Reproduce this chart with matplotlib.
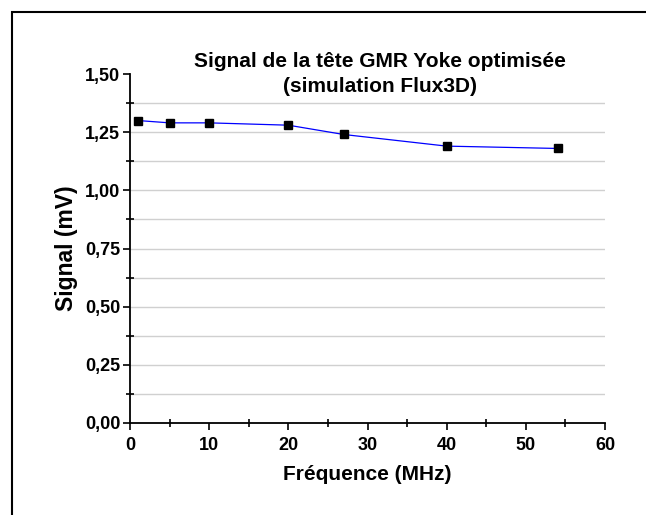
import numpy as np
import matplotlib
matplotlib.use('Agg')
import matplotlib.pyplot as plt
from matplotlib.ticker import MultipleLocator, FuncFormatter
from matplotlib.patches import Rectangle

# Data
freq_mhz = [1, 5, 10, 20, 27, 40, 54]
signal_mv = [1.30, 1.29, 1.29, 1.28, 1.24, 1.19, 1.18]

title = 'Signal de la tête GMR Yoke optimisée\n(simulation Flux3D)'
xlabel = 'Fréquence (MHz)'
ylabel = 'Signal (mV)'

plt.rcParams['font.family'] = ['Liberation Sans', 'DejaVu Sans']
plt.rcParams['font.weight'] = 'bold'

W, H = 646, 515
fig = plt.figure(figsize=(W / 100, H / 100), dpi=100)

# outer frame (left and top edges visible)
fig.patches.append(Rectangle((12 / W, -0.1), 1.2, 1 - 11.5 / H + 0.1,
                             transform=fig.transFigure, fill=False,
                             edgecolor='black', linewidth=1.5))

left, right, top, bottom = 130, 605, 74, 423
ax = fig.add_axes([left / W, 1 - bottom / H, (right - left) / W, (bottom - top) / H])

ax.plot(freq_mhz, signal_mv, color='#0000ff', linewidth=0.9,
        marker='s', markersize=6, markerfacecolor='black',
        markeredgecolor='black', zorder=3)

ax.set_xlim(0, 60)
ax.set_ylim(0, 1.5)
ax.xaxis.set_major_locator(MultipleLocator(10))
ax.xaxis.set_minor_locator(MultipleLocator(5))
ax.yaxis.set_major_locator(MultipleLocator(0.25))
ax.yaxis.set_minor_locator(MultipleLocator(0.125))
ax.yaxis.set_major_formatter(FuncFormatter(lambda v, p: f'{v:.2f}'.replace('.', ',')))

# horizontal grid at every minor step, except the top
for yv in np.arange(0.125, 1.5, 0.125):
    ax.axhline(yv, color='#d0d0d0', linewidth=1.0, zorder=1)

for s in ['top', 'right']:
    ax.spines[s].set_visible(False)
for s in ['left', 'bottom']:
    ax.spines[s].set_linewidth(1.3)

ax.tick_params(which='major', direction='out', length=5, width=1.2,
               labelsize=13)
ax.tick_params(axis='x', which='major', pad=5)
ax.tick_params(axis='y', which='major', pad=2)
ax.tick_params(which='minor', direction='inout', length=6, width=1.2)

ax.set_xlabel(xlabel, fontsize=15, fontweight='bold', labelpad=8)
ax.set_ylabel(ylabel, fontsize=16.5, fontweight='bold', labelpad=5)

fig.text(380 / W, 1 - 74 / H, title, ha='center', va='center',
         fontsize=15, fontweight='bold', linespacing=1.4)

fig.savefig('out.png', dpi=100)
